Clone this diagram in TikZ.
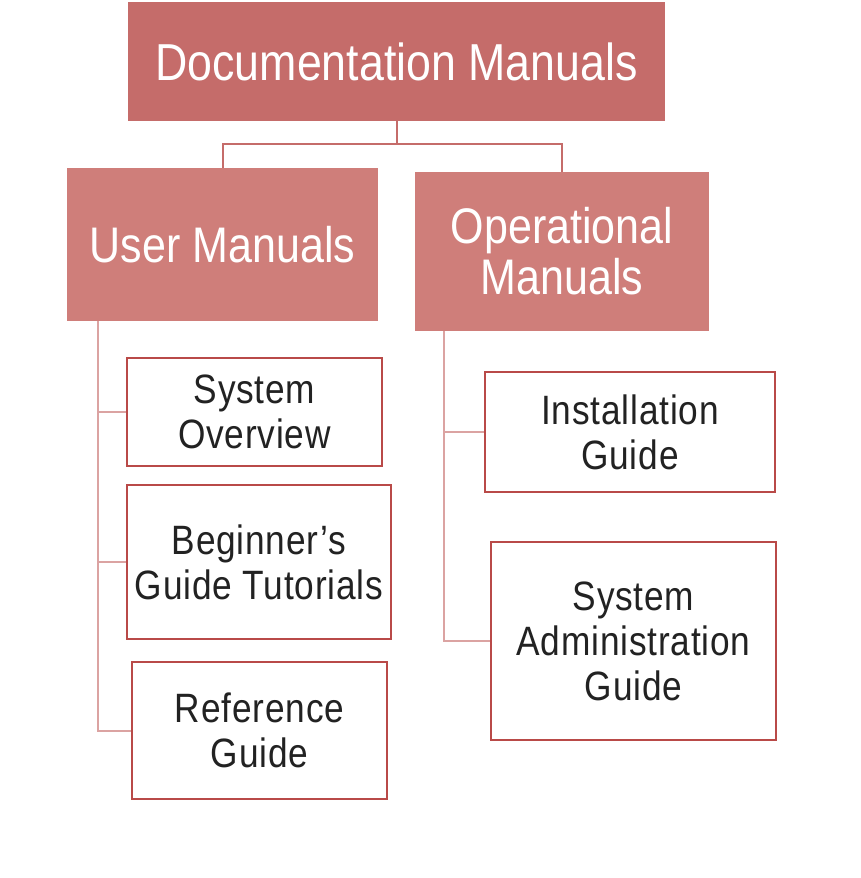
\documentclass[tikz,border=0pt]{standalone}
\usepackage{fontspec}
\setmainfont{Liberation Sans}[FakeStretch=0.86]
\definecolor{topred}{HTML}{C56C6A}
\definecolor{midred}{HTML}{CF7E7A}
\definecolor{boxline}{HTML}{B94A48}
\definecolor{stemline}{HTML}{DBA3A2}
\definecolor{textgray}{HTML}{222222}
\tikzset{
  headbox/.style={fill=topred, text=white, inner sep=0pt, align=center,
    font=\fontsize{52}{60}\selectfont},
  groupbox/.style={fill=midred, text=white, inner sep=0pt, align=center,
    font=\fontsize{50}{51}\selectfont},
  leafbox/.style={draw=boxline, line width=2pt, fill=white, text=textgray,
    inner sep=0pt, align=center,
    font=\fontsize{41}{45}\selectfont\addfontfeature{LetterSpace=2}},
  link/.style={draw=topred, line width=2pt},
  stem/.style={draw=stemline, line width=2pt},
}
\begin{document}
\begin{tikzpicture}[x=1pt,y=-1pt]
\useasboundingbox (0,0) rectangle (861,878);
%head
\node[headbox, minimum width=537, minimum height=119] (doc) at (396.5,61.5) {Documentation Manuals};
%groups
\node[groupbox, minimum width=311, minimum height=153] (user) at (222.5,244.5) {User Manuals};
\node[groupbox, minimum width=294, minimum height=159] (oper) at (562,251.5) {Operational\\Manuals};
%user manuals
\node[leafbox, minimum width=255, minimum height=108] (sysov) at (254.5,412) {System\\Overview};
\node[leafbox, minimum width=264, minimum height=154] (begin) at (259,562) {Beginner’s\\Guide Tutorials};
\node[leafbox, minimum width=255, minimum height=137] (refg) at (259.5,730.5) {Reference\\Guide};
%operational manuals
\node[leafbox, minimum width=290, minimum height=120] (inst) at (630,432) {Installation\\Guide};
\node[leafbox, minimum width=285, minimum height=198] (sysad) at (633.5,641) {System\\Administration\\Guide};
%links
\draw[link] (doc.south) -- ++(0,23) -| (user.north);
\draw[link] (doc.south) -- ++(0,23) -| (oper.north);
%stems
\draw[stem] (user.south west) ++(31,0) |- (sysov.west);
\draw[stem] (user.south west) ++(31,0) |- (begin.west);
\draw[stem] (user.south west) ++(31,0) |- (refg.west);
\draw[stem] (oper.south west) ++(29,0) |- (inst.west);
\draw[stem] (oper.south west) ++(29,0) |- (sysad.west);
\end{tikzpicture}
\end{document}
